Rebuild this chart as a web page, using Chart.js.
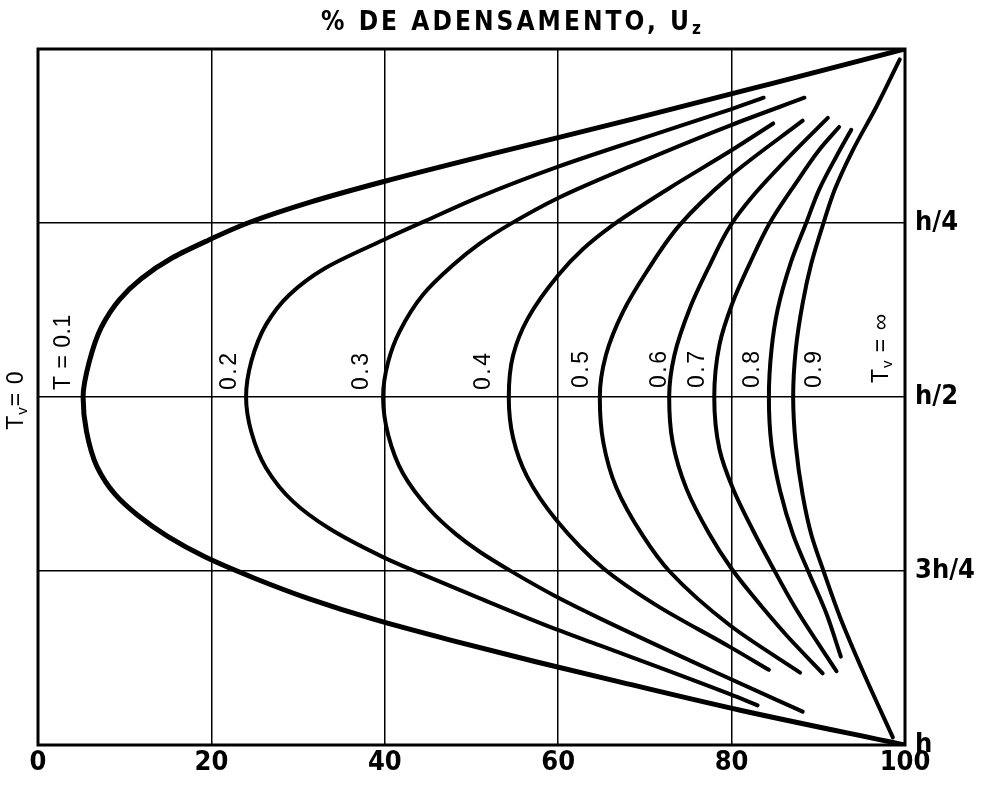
<!DOCTYPE html>
<html>
<head>
<meta charset="utf-8">
<script src="https://cdn.jsdelivr.net/npm/chart.js@4.4.1/dist/chart.umd.min.js"></script>
<style>
  html, body { margin: 0; padding: 0; background: #fff; }
  canvas { display: block; }
</style>
</head>
<body>
<canvas id="isocronas" width="981" height="786"></canvas>
<script>
// isocronas de adensamento: Uz (%) no eixo x, profundidade (fracao de h) no eixo y
const curveNames = ["T = 0.1", "0.2", "0.3", "0.4", "0.5", "0.6", "0.7", "0.8", "0.9"];
const xTicks = [0, 20, 40, 60, 80, 100];
const depthTicks = [0, 0.25, 0.5, 0.75, 1];
const depthLabels = ["", "h/4", "h/2", "3h/4", "h"];

// [Uz %, z/h], de cima para baixo
const t01 = [[100, 0], [84.5, 0.05], [68.8, 0.10], [52.6, 0.15], [40.0, 0.19], [31.4, 0.22],
  [24.2, 0.25], [19.6, 0.275], [15.5, 0.30], [11.9, 0.33], [9.4, 0.36], [7.3, 0.40],
  [5.9, 0.45], [5.2, 0.5], [5.6, 0.55], [6.8, 0.60], [8.9, 0.64], [11.5, 0.67],
  [14.9, 0.70], [19.3, 0.73], [24.9, 0.76], [31.3, 0.79], [38.9, 0.82], [47.8, 0.85],
  [57.3, 0.88], [67.3, 0.91], [81.0, 0.95], [100, 1]];
const t02 = [[83.7, 0.070], [79.8, 0.087], [69.8, 0.128], [60.0, 0.169], [51.0, 0.212], [44.5, 0.248],
  [39.9, 0.274], [33.1, 0.315], [29.0, 0.353], [26.3, 0.396], [24.6, 0.449], [24.0, 0.5],
  [24.6, 0.55], [26.3, 0.602], [29.4, 0.650], [33.6, 0.689], [39.8, 0.730], [44.0, 0.753],
  [50.9, 0.789], [59.8, 0.834], [64.8, 0.857], [79.8, 0.927], [83.0, 0.943]];
const t03 = [[88.4, 0.070], [79.8, 0.110], [69.0, 0.165], [60.0, 0.214], [54.4, 0.252], [50.9, 0.280],
  [47.9, 0.310], [44.4, 0.353], [41.7, 0.406], [40.4, 0.449], [39.8, 0.5], [40.4, 0.555],
  [42.1, 0.610], [45.2, 0.662], [48.2, 0.697], [50.9, 0.722], [54.8, 0.752], [59.8, 0.787],
  [64.8, 0.818], [78.6, 0.898], [88.2, 0.952]];
const t04 = [[84.8, 0.107], [79.8, 0.147], [72.8, 0.200], [66.3, 0.253], [62.8, 0.288], [60.0, 0.325],
  [56.5, 0.387], [54.8, 0.44], [54.3, 0.5], [54.8, 0.559], [56.4, 0.614], [59.8, 0.677],
  [65.2, 0.746], [71.3, 0.799], [79.8, 0.859], [84.3, 0.892]];
const t05 = [[88.2, 0.103], [79.8, 0.183], [74.0, 0.253], [70.2, 0.320], [67.5, 0.377], [65.5, 0.44],
  [64.8, 0.5], [65.2, 0.565], [66.7, 0.630], [69.8, 0.700], [72.8, 0.750], [79.8, 0.828],
  [87.9, 0.896]];
const t06 = [[91.1, 0.099], [87.4, 0.145], [82.4, 0.212], [79.8, 0.255], [77.5, 0.310], [75.2, 0.372],
  [73.4, 0.44], [72.8, 0.5], [73.2, 0.565], [74.8, 0.632], [77.4, 0.696], [79.9, 0.745],
  [82.4, 0.785], [86.3, 0.842], [90.5, 0.897]];
const t07 = [[92.4, 0.112], [90.1, 0.145], [87.4, 0.193], [84.4, 0.250], [82.1, 0.308], [80.1, 0.365],
  [78.6, 0.425], [78.0, 0.5], [78.6, 0.575], [80.2, 0.633], [82.4, 0.690], [84.4, 0.737],
  [87.4, 0.804], [92.1, 0.894]];
const t08 = [[93.8, 0.116], [92.1, 0.154], [90.1, 0.202], [88.6, 0.250], [86.8, 0.308], [85.3, 0.375],
  [84.6, 0.432], [84.3, 0.5], [84.6, 0.569], [85.6, 0.635], [87.1, 0.698], [89.0, 0.755],
  [90.9, 0.810], [92.6, 0.873]];
const t09 = [[99.4, 0.015], [96.7, 0.083], [94.0, 0.145], [91.9, 0.202], [90.6, 0.250], [89.2, 0.308],
  [88.2, 0.365], [87.4, 0.432], [87.1, 0.5], [87.4, 0.569], [88.2, 0.641], [89.2, 0.698],
  [90.6, 0.75], [92.5, 0.816], [95.1, 0.893], [98.6, 0.989]];
const curves = [t01, t02, t03, t04, t05, t06, t07, t08, t09];

// onde vai cada rotulo vertical (em unidades dos eixos)
const curveLabelAt = [[2.96, 0.49], [22.1, 0.49], [37.3, 0.49], [51.4, 0.49], [62.7, 0.487],
  [71.7, 0.487], [76.1, 0.487], [82.4, 0.487], [89.6, 0.487]];

const tickFont = { family: "'DejaVu Sans Condensed', 'Liberation Sans Narrow', 'DejaVu Sans', sans-serif", size: 27, weight: "bold" };
const labelFamily = "'Liberation Sans', Arial, sans-serif";

// texto com subscrito, escrito da esquerda para a direita a partir de (0,0)
function drawParts(ctx, parts) {
  let x = 0;
  parts.forEach(p => {
    ctx.font = p.font;
    ctx.fillText(p.t, x, p.dy || 0);
    x += ctx.measureText(p.t).width;
  });
}

const frame = {
  id: "frame",
  afterDatasetsDraw(chart) {
    const { ctx, chartArea: a } = chart;
    ctx.save();
    ctx.strokeStyle = "#000";
    ctx.lineWidth = 3;
    ctx.strokeRect(a.left, a.top, a.right - a.left, a.bottom - a.top);
    ctx.restore();
  }
};

const labels = {
  id: "labels",
  afterDraw(chart) {
    const { ctx } = chart;
    const xs = chart.scales.x, ys = chart.scales.y;
    ctx.save();
    ctx.fillStyle = "#000";
    ctx.textAlign = "left";
    ctx.textBaseline = "middle";

    const vertical = (u, z, parts, spacing) => {
      ctx.save();
      ctx.letterSpacing = spacing + "px";
      ctx.translate(xs.getPixelForValue(u), ys.getPixelForValue(z));
      ctx.rotate(-Math.PI / 2);
      drawParts(ctx, parts);
      ctx.restore();
    };

    const big = "23px " + labelFamily;
    const small = "15px " + labelFamily;
    curveNames.forEach((name, i) => {
      vertical(curveLabelAt[i][0], curveLabelAt[i][1], [{ t: name, font: big }], i === 0 ? 0.5 : 2.5);
    });
    vertical(-2.46, 0.547, [{ t: "T", font: big }, { t: "v", font: small, dy: 6 }, { t: "= 0", font: big }], 1);
    vertical(97.3, 0.48, [{ t: "T", font: big }, { t: "v", font: small, dy: 6 }, { t: " = \u221E", font: big }], 1);

    // titulo
    ctx.textBaseline = "alphabetic";
    const titleFont = "bold 26px " + tickFont.family;
    const subFont = "bold 17px " + tickFont.family;
    ctx.font = titleFont;
    ctx.letterSpacing = "0px";
    const main = "% DE ADENSAMENTO, U";
    const natural = ctx.measureText(main).width;
    ctx.font = subFont;
    const subW = ctx.measureText("z").width;
    const spacing = (383 - natural - subW) / (main.length + 1);
    ctx.letterSpacing = spacing.toFixed(2) + "px";
    ctx.save();
    ctx.translate(321, 30);
    drawParts(ctx, [{ t: main, font: titleFont }, { t: "z", font: subFont, dy: 4 }]);
    ctx.restore();
    ctx.restore();
  }
};

new Chart(document.getElementById("isocronas"), {
  type: "scatter",
  data: {
    datasets: curves.map((c, i) => ({
      label: curveNames[i],
      data: c.map(([u, z]) => ({ x: u, y: z })),
      showLine: true,
      borderColor: "#000",
      borderWidth: i === 0 ? 5 : 4,
      borderCapStyle: "round",
      pointRadius: 0,
      cubicInterpolationMode: "monotone",
      fill: false
    }))
  },
  options: {
    indexAxis: "y",
    responsive: false,
    animation: false,
    devicePixelRatio: 1,
    layout: { padding: { left: 38, top: 49, right: 0, bottom: 0 } },
    plugins: { legend: { display: false }, tooltip: { enabled: false } },
    scales: {
      x: {
        type: "linear",
        position: "bottom",
        min: 0,
        max: 100,
        afterBuildTicks: s => { s.ticks = xTicks.map(v => ({ value: v })); },
        afterFit: s => { s.height = 41; },
        grid: { color: "#000", lineWidth: 1.5, drawTicks: false },
        border: { display: false },
        ticks: { color: "#000", font: tickFont, padding: 2, maxRotation: 0, autoSkip: false }
      },
      y: {
        type: "linear",
        position: "right",
        reverse: true,
        min: 0,
        max: 1,
        afterBuildTicks: s => { s.ticks = depthTicks.map(v => ({ value: v })); },
        afterFit: s => { s.width = 76; },
        grid: { color: "#000", lineWidth: 1.5, drawTicks: false },
        border: { display: false },
        ticks: { color: "#000", font: tickFont, padding: 10, autoSkip: false, callback: (v, i) => depthLabels[i] }
      }
    }
  },
  plugins: [frame, labels]
});
</script>
</body>
</html>
